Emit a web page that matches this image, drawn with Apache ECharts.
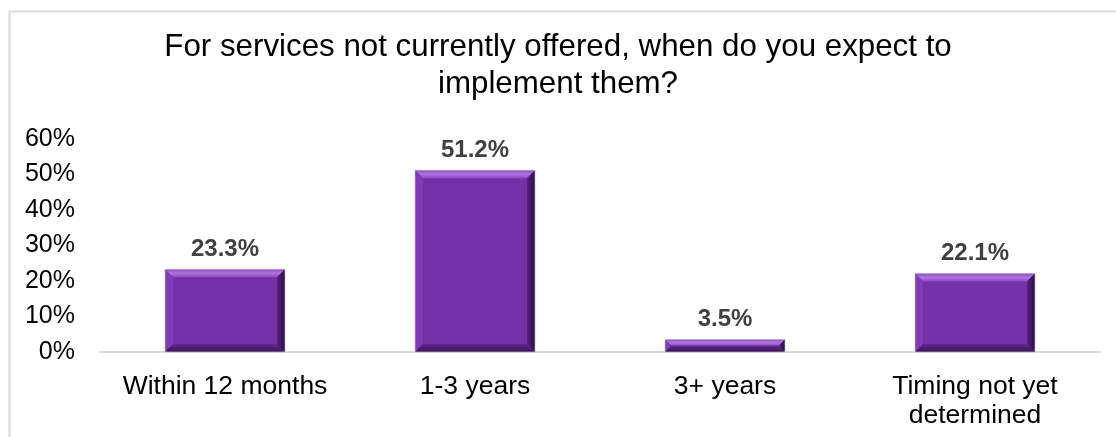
<!DOCTYPE html>
<html>
<head>
<meta charset="utf-8">
<script src="https://cdn.jsdelivr.net/npm/echarts@6/dist/echarts.min.js"></script>
<style>
  html, body { margin: 0; padding: 0; background: #ffffff; }
  #chart { width: 1116px; height: 437px; }
</style>
</head>
<body>
<div id="chart"></div>
<script>
// Survey answers: expected timing for new services
const categories = ['Within 12 months', '1-3 years', '3+ years', 'Timing not yet\ndetermined'];
const shares = [23.3, 51.2, 3.5, 22.1];
const yTicks = [0, 10, 20, 30, 40, 50, 60];

const FONT = '"Liberation Sans", Arial, sans-serif';

// Bevelled bar: a flat face surrounded by four shaded edges
function renderBevelBar(params, api) {
  const idx = api.value(0);
  const val = api.value(1);
  const top = api.coord([idx, val]);
  const base = api.coord([idx, 0]);
  const bandW = api.size([1, 0])[0];
  const w = bandW * 0.48;
  const x0 = top[0] - w / 2, x1 = top[0] + w / 2;
  const y0 = top[1], y1 = base[1];
  const h = y1 - y0;
  const b = Math.min(8, h / 2);
  const poly = (pts, fill) => ({ type: 'polygon', shape: { points: pts }, style: { fill: fill } });
  const children = [
    { type: 'rect', shape: { x: x0, y: y0, width: w, height: h }, style: { fill: '#7532a8' } },
    poly([[x0, y0], [x1, y0], [x1 - b, y0 + b], [x0 + b, y0 + b]], {
      type: 'linear', x: 0, y: 0, x2: 0, y2: 1,
      colorStops: [{ offset: 0, color: '#9050c8' }, { offset: 0.5, color: '#ae74de' }, { offset: 1, color: '#8c48c4' }]
    }),
    poly([[x0, y0], [x0 + b, y0 + b], [x0 + b, y1 - b], [x0, y1]], '#803cb8'),
    poly([[x1, y0], [x1, y1], [x1 - b, y1 - b], [x1 - b, y0 + b]], {
      type: 'linear', x: 1, y: 0, x2: 0, y2: 0,
      colorStops: [{ offset: 0, color: '#2a0c3c' }, { offset: 1, color: '#5a2282' }]
    }),
    poly([[x0, y1], [x0 + b, y1 - b], [x1 - b, y1 - b], [x1, y1]], {
      type: 'linear', x: 0, y: 1, x2: 0, y2: 0,
      colorStops: [{ offset: 0, color: '#3a1454' }, { offset: 1, color: '#62268e' }]
    }),
    { type: 'rect', shape: { x: x0, y: y0, width: w, height: h },
      style: { fill: 'none', stroke: 'rgba(190,190,190,0.7)', lineWidth: 1 } },
    { type: 'text', x: top[0], y: y0 - 20,
      style: { text: val.toFixed(1) + '%', fill: '#404040', font: 'bold 24px ' + FONT,
               align: 'center', verticalAlign: 'middle' } }
  ];
  return { type: 'group', children: children };
}

const chart = echarts.init(document.getElementById('chart'));
chart.setOption({
  animation: false,
  backgroundColor: '#ffffff',
  graphic: [{
    type: 'rect', left: 7, top: 9, shape: { width: 1130, height: 450 },
    style: { fill: 'none', stroke: '#d9d9d9', lineWidth: 2 }, silent: true
  }],
  title: {
    text: 'For services not currently offered, when do you expect to\nimplement them?',
    left: 'center', top: 24,
    textStyle: { fontFamily: FONT, fontSize: 31.3, fontWeight: 'normal', color: '#000000', lineHeight: 37 }
  },
  grid: { left: 100, right: 16, top: 139, bottom: 85 },
  xAxis: {
    type: 'category',
    data: categories,
    axisLine: { show: true, lineStyle: { color: '#d9d9d9', width: 2 } },
    axisTick: { show: false },
    axisLabel: { fontFamily: FONT, fontSize: 26.5, color: '#000000', lineHeight: 29, margin: 20, interval: 0 }
  },
  yAxis: {
    type: 'value',
    min: 0, max: 60, interval: 10,
    splitLine: { show: false },
    axisLine: { show: false },
    axisTick: { show: false },
    axisLabel: {
      fontFamily: FONT, fontSize: 25, color: '#000000', margin: 25,
      formatter: v => (yTicks.includes(v) ? v + '%' : '')
    }
  },
  series: [{
    type: 'custom',
    renderItem: renderBevelBar,
    data: shares.map((v, i) => [i, v]),
    encode: { x: 0, y: 1 }
  }]
});
</script>
</body>
</html>
